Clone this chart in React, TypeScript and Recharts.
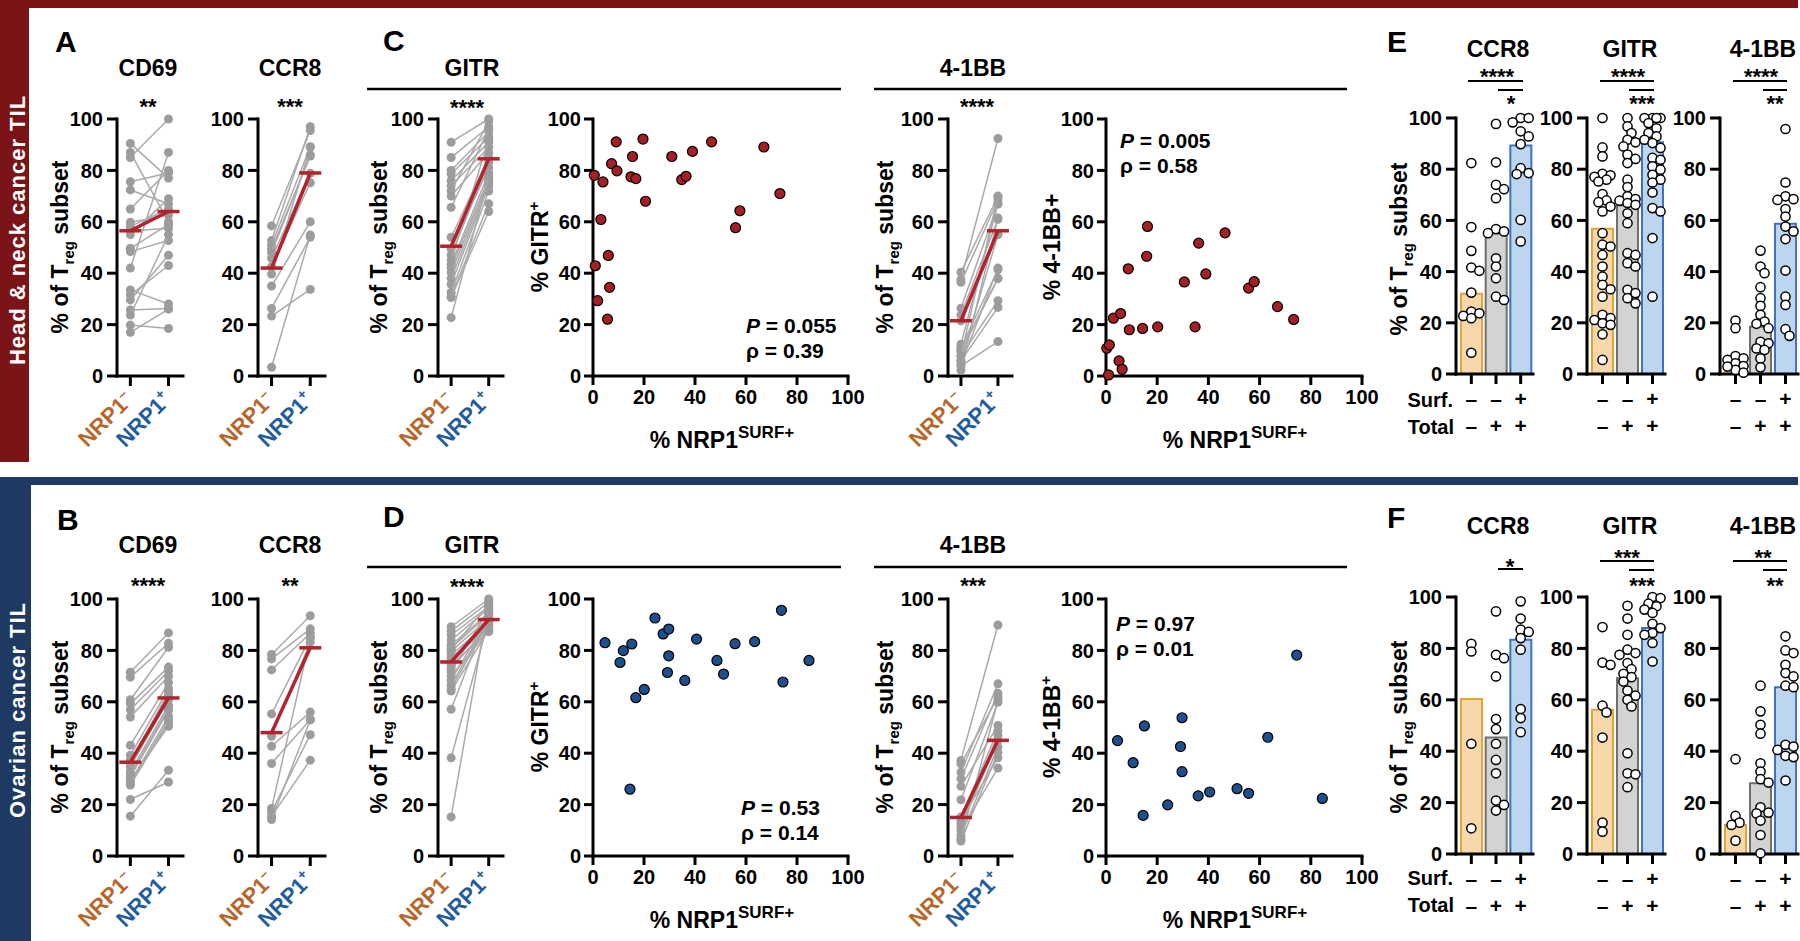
import React from 'react';
import { ScatterChart, Scatter, XAxis, YAxis, ComposedChart, Bar, Cell } from 'recharts';

const FONT = '"Liberation Sans", Arial, Helvetica, sans-serif';
const RED_BAND = '#7a1417';
const BLUE_BAND = '#1e3a62';
const MEAN_RED = '#b3232b';
const GREY_DOT = '#9c9c9c';
const GREY_LINE = '#aaaaaa';
const NEG_COLOR = '#b8652a';
const POS_COLOR = '#1f5c9e';
const SC_RED = '#a51f24';
const SC_BLUE = '#1f4f8f';

// ---------- tick / category labels ----------
const yTicks = [0, 20, 40, 60, 80, 100];
const xTicksCorr = [0, 20, 40, 60, 80, 100];
const pairSigns = ['–', '+'];
const barCats = ['neg', 'total', 'surf'];
const barSurf = ['–', '–', '+'];
const barTotal = ['–', '+', '+'];

// ---------- Head & neck: paired (NRP1- , NRP1+) ----------
const hnCD69Neg = [90.5, 87, 85, 75.6, 72.4, 65, 59.8, 58.2, 56.4, 55, 49.7, 48.4, 42, 33.5, 31.5, 29.6, 25.7, 23.7, 19.8, 17];
const hnCD69Pos = [77, 60, 100, 79, 67, 80, 62.6, 65, 57.5, 69, 59, 52.7, 87, 28, 43, 47, 26.3, 55, 18.5, 26];
const hnCD69Mean = [56.5, 64];
const hnCCR8Neg = [58.4, 52.7, 51, 49.3, 45.8, 42.5, 39.7, 35, 26.3, 23.3, 3.4, 48];
const hnCCR8Pos = [95.5, 97, 89.2, 85.6, 78.9, 75.2, 89, 60, 54, 33.7, 54.9, 86];
const hnCCR8Mean = [42, 79];
const hnGITRNeg = [91, 85, 80, 78.6, 76, 74, 72, 70, 65.6, 54, 49.4, 47, 43.5, 42.2, 40.3, 38, 35.7, 32.5, 31, 30.5, 22.7, 45];
const hnGITRPos = [100, 97, 95, 93, 91, 89, 99, 87, 96, 85, 81, 83, 79, 77, 76, 75, 74, 72, 67, 64, 78, 92];
const hnGITRMean = [50.5, 84.5];
const hn41BBNeg = [40.4, 37.5, 36.5, 26.4, 23.8, 21.5, 12.4, 11, 10, 9.5, 7.8, 6, 5.9, 3.9, 2.2, 4.5, 8];
const hn41BBPos = [69.8, 92.4, 68.5, 66.9, 61, 55, 67, 41.4, 38, 37.9, 29.3, 55, 26.7, 13.4, 61.5, 42, 70];
const hn41BBMean = [21.5, 56.5];

// ---------- Ovarian: paired ----------
const ovCD69Neg = [71.5, 69.6, 60.8, 59.3, 56.9, 54.1, 43.1, 39.2, 37.3, 34.7, 32.7, 30.8, 28.8, 27.6, 22, 15.5, 36, 29.5, 31.5, 28];
const ovCD69Pos = [86.8, 82.8, 81.2, 73.5, 72, 69.9, 67.4, 65.1, 62.5, 60.8, 58.6, 56.7, 54.3, 52, 28.8, 33.4, 64, 50.5, 57.5, 53];
const ovCD69Mean = [36.5, 61.5];
const ovCCR8Neg = [78.4, 76.7, 72.4, 55.3, 46.6, 42.7, 36, 18.5, 17.2, 15.5, 14.2];
const ovCCR8Pos = [93.5, 88.4, 86.7, 85.1, 83.2, 56, 53, 85, 47.2, 37.3, 53];
const ovCCR8Mean = [48, 81];
const ovGITRNeg = [89.2, 87.5, 84, 82.1, 79.7, 78.2, 76.2, 74.3, 71.7, 68.4, 65.2, 64.2, 57.1, 38.2, 15.2, 86, 81, 77, 73, 70, 66.5, 80.5];
const ovGITRPos = [100, 98.7, 96.4, 94.5, 92.5, 90.9, 89.2, 87.3, 96, 93, 91, 88, 95, 92, 99, 97, 94, 90, 89.5, 87.5, 92, 98];
const ovGITRMean = [75.5, 92];
const ov41BBNeg = [37.2, 35.9, 32.6, 30, 27.1, 21.9, 15.2, 12.8, 11.5, 8, 5.8, 14, 10, 6.5];
const ov41BBPos = [89.9, 61.8, 67, 63.3, 50.8, 59.8, 48.8, 46.9, 44.9, 42.4, 40.4, 38.2, 34.2, 60.5];
const ov41BBMean = [15, 45];

// ---------- correlations (%NRP1 surf+ vs marker) ----------
const hnGITRCorrX = [0.5, 3.9, 3.1, 0.9, 1.8, 6, 6.5, 5.7, 7.3, 9.1, 9.4, 14.9, 15.5, 16.8, 19.6, 20.6, 30.9, 34.8, 36.5, 39, 46.5, 55.9, 57.6, 67, 73.3];
const hnGITRCorrY = [78.1, 75.5, 60.9, 42.9, 29.3, 46.9, 34.5, 22.1, 82.6, 91.1, 79.8, 77.5, 85.4, 76.8, 92.2, 68, 85.4, 76.4, 77.7, 87.4, 91.1, 57.7, 64.3, 89.1, 71];
const hn41BBCorrX = [0.3, 1.3, 1, 2.9, 5.7, 5.1, 6.3, 8.7, 9.1, 14.3, 16.2, 15.9, 20.2, 30.6, 34.8, 36.2, 39, 46.5, 55.7, 57.9, 67, 73.3];
const hn41BBCorrY = [10.8, 12.1, 0.4, 22.5, 24.3, 5.9, 2.6, 41.7, 18, 18.5, 58.2, 46.6, 19.1, 36.6, 19.1, 51.7, 39.7, 55.7, 34.2, 36.7, 27, 22];
const ovGITRCorrX = [4.7, 10.6, 11.9, 15.2, 16.8, 20.1, 14.5, 24.3, 27.5, 29.7, 29.7, 29.2, 36, 40.6, 48.6, 51.2, 55.7, 63.4, 73.9, 74.5, 84.7];
const ovGITRCorrY = [83, 75.3, 79.9, 82.5, 61.6, 64.8, 26, 92.6, 86.4, 88.3, 77.9, 71.4, 68.3, 84.4, 76.1, 70.8, 82.6, 83.4, 95.6, 67.7, 76.1];
const ov41BBCorrX = [4.5, 10.6, 15, 14.5, 24.1, 29.7, 29.1, 29.7, 36, 40.5, 51.2, 55.7, 63.2, 74.5, 84.5];
const ov41BBCorrY = [44.9, 36.3, 50.6, 15.8, 19.9, 53.8, 42.6, 32.8, 23.4, 24.9, 26.2, 24.4, 46.2, 78.2, 22.4];

// ---------- bars: NRP1 surf-/total-, surf-/total+, surf+/total+ ----------
const hnBarCCR8Means = [31.3, 55, 89.3];
const hnBarCCR8Neg = [82.4, 57.4, 48.1, 41.6, 40.3, 31.8, 24.4, 23.7, 22.7, 21.8, 8.3];
const hnBarCCR8Tot = [97.7, 82.7, 73.9, 72.2, 68.7, 56.6, 55.7, 55, 45.2, 42, 37.4, 30.2, 28.9];
const hnBarCCR8Surf = [100, 100, 98.3, 94.8, 92.8, 89.8, 80.4, 78.5, 78.1, 60.2, 51.8];
const hnBarGITRMeans = [56.7, 65.8, 90.5];
const hnBarGITRNeg = [100, 88.5, 85, 78.2, 77.6, 77, 75.9, 75.2, 70.3, 67.8, 67.1, 65.4, 63.5, 55, 50.5, 49.8, 46.5, 42, 38, 34.8, 33.1, 30.2, 23.1, 21.8, 21.1, 19.8, 19.2, 15.5, 5.5];
const hnBarGITRTot = [100, 96.7, 94.1, 91.5, 90.5, 88.9, 85.7, 84, 82.4, 75.9, 73, 69.4, 68.3, 67.7, 66.8, 66.1, 62.8, 58.9, 47.2, 46.5, 43.3, 42, 32.9, 31.6, 29.6, 27.6];
const hnBarGITRSurf = [100, 100, 100, 100, 98, 96, 94.1, 92.8, 91.5, 90.2, 88.3, 84.4, 83.7, 81.1, 79.8, 77.8, 75.9, 74.8, 70.9, 64.8, 63.5, 53.1, 30.2];
const hnBar41BBMeans = [5.5, 18.5, 58.7];
const hnBar41BBNeg = [20.9, 17.9, 7, 6.1, 5.5, 4.2, 3.1, 1.6, 0.5, 2.9];
const hnBar41BBTot = [48.2, 42, 39.4, 33.9, 29.6, 26.6, 23.1, 20.5, 19.6, 17.9, 12.6, 12, 10, 9.4, 6.1, 2.6];
const hnBar41BBSurf = [95.7, 74.8, 69.4, 68.3, 68, 64.4, 61.5, 57.6, 55.7, 52.7, 40.4, 30.2, 27, 17.5, 14.9];

const ovBarCCR8Means = [60.3, 45.3, 83.4];
const ovBarCCR8Neg = [81.8, 78.8, 42.9, 10];
const ovBarCCR8Tot = [94.4, 77.5, 76.2, 69.1, 52.5, 48.6, 42.9, 36.6, 31.4, 20.8, 19.1, 16.9];
const ovBarCCR8Surf = [98.3, 91.6, 87.3, 86.4, 84, 79.5, 56.4, 52.9, 47.4];
const ovBarGITRMeans = [56.1, 68.4, 87.9];
const ovBarGITRNeg = [88.3, 74.5, 73.6, 57.7, 55.1, 45.3, 12.2, 8.7];
const ovBarGITRTot = [96.6, 91.6, 85.3, 79.5, 78.2, 77.5, 74.3, 71.9, 70.1, 68.8, 67.1, 63.6, 61.6, 60, 57.4, 39.2, 31.4, 31, 26];
const ovBarGITRSurf = [100, 99.6, 97.4, 96.4, 95.1, 93.8, 89.6, 87.9, 86, 85.3, 82.1, 74.9];
const ovBar41BBMeans = [11.3, 27.5, 64.9];
const ovBar41BBNeg = [36.9, 14.8, 12.2, 11.3, 5.2];
const ovBar41BBTot = [65.5, 55.5, 50.3, 46.8, 35.3, 32.1, 29.1, 27.8, 18.2, 16.1, 15.8, 13, 7.4, 0.3];
const ovBar41BBSurf = [84.7, 79.2, 78.2, 73.6, 70.4, 69.1, 65.5, 64.9, 42.5, 41.8, 40.5, 38.2, 37.7, 28.6];

const BAR_STYLE = [
  { fill: '#f7d8aa', stroke: '#e9a236' },
  { fill: '#d3d3d3', stroke: '#6f6f6f' },
  { fill: '#bcd6f0', stroke: '#3f72c4' },
];

// ---------- shared styles ----------
const AXIS = { stroke: '#000', strokeWidth: 3, strokeLinecap: 'square' as const };
const TICKLINE = { stroke: '#000', strokeWidth: 3 };
const TICK = { fill: '#000', fontSize: 20, fontWeight: 700, fontFamily: FONT };

const greyDot = (p: any) => <circle cx={p.cx} cy={p.cy} r={4.5} fill={GREY_DOT} />;
const meanCap = (p: any) => (
  <line x1={p.cx - 11} x2={p.cx + 11} y1={p.cy} y2={p.cy} stroke={MEAN_RED} strokeWidth={3.5} />
);
const whiteDot = (p: any) => <circle cx={p.cx} cy={p.cy} r={4.6} fill="#fff" stroke="#000" strokeWidth={1.5} />;

// compact beeswarm: small horizontal offsets (in axis units), dots may overlap a little
function swarm(vals: number[], unitPx: number, yPx: number, d = 7, maxOff = 10): number[] {
  const idx = vals.map((_, i) => i).sort((a, b) => vals[b] - vals[a]);
  const placed: [number, number][] = [];
  const out: number[] = vals.map(() => 0);
  const step = 4;
  const cands: number[] = [0];
  for (let k = 1; k * step <= maxOff; k++) cands.push(k * step, -k * step);
  for (const i of idx) {
    const py = vals[i] * yPx;
    let best = 0, bestScore = -1;
    for (const off of cands) {
      const md = placed.reduce((m, [px, qy]) => Math.min(m, Math.hypot(px - off, qy - py)), 1e9);
      if (md >= d) { best = off; bestScore = 1e9; break; }
      if (md > bestScore) { bestScore = md; best = off; }
    }
    placed.push([best, py]);
    out[i] = best / unitPx;
  }
  return out;
}

function PairTick(props: any) {
  const { x, y, payload } = props;
  const i = payload.value === 0 ? 0 : 1;
  const ax = x + 4;
  const ay = y + 13;
  return (
    <text x={ax} y={ay} textAnchor="end" transform={`rotate(-45 ${ax} ${ay})`}
      fill={i === 0 ? NEG_COLOR : POS_COLOR} fontSize={22} fontWeight={700} fontFamily={FONT}>
      <tspan>NRP1</tspan>
      <tspan dy={-9} fontSize={14}>{pairSigns[i]}</tspan>
    </text>
  );
}

function BarSignTick(props: any) {
  const { x, y, payload } = props;
  const i = barCats.indexOf(payload.value);
  return (
    <g fontFamily={FONT} fontWeight={700} fontSize={21} fill="#000">
      <text x={x} y={y + 20} textAnchor="middle">{barSurf[i]}</text>
      <text x={x} y={y + 47} textAnchor="middle">{barTotal[i]}</text>
    </g>
  );
}

function PairedChart({ x0, y0, w, h, neg, pos, mean }: any) {
  const YW = 60, MT = 12, MR = 10, XH = 80;
  return (
    <div style={{ position: 'absolute', left: x0 - YW, top: y0 - MT }}>
      <ScatterChart width={YW + w + MR} height={MT + h + XH} margin={{ top: MT, right: MR, left: 0, bottom: 0 }}>
        <XAxis type="number" dataKey="x" domain={[-0.35, 1.38]} ticks={[0, 1]} interval={0} height={XH}
          tick={(p: any) => <PairTick {...p} />} tickSize={10} axisLine={AXIS} tickLine={TICKLINE} />
        <YAxis type="number" dataKey="y" domain={[0, 100]} ticks={yTicks} interval={0} width={YW}
          tick={TICK} tickSize={10} tickMargin={4} axisLine={AXIS} tickLine={TICKLINE} />
        {neg.map((v: number, i: number) => (
          <Scatter key={i} data={[{ x: 0, y: v }, { x: 1, y: pos[i] }]} line={{ stroke: GREY_LINE, strokeWidth: 1.5 }}
            shape={greyDot} isAnimationActive={false} />
        ))}
        <Scatter data={[{ x: 0, y: mean[0] }, { x: 1, y: mean[1] }]} line={{ stroke: MEAN_RED, strokeWidth: 3.5 }}
          shape={meanCap} isAnimationActive={false} />
      </ScatterChart>
    </div>
  );
}

function CorrChart({ x0, y0, w, h, xs, ys, color }: any) {
  const YW = 60, MT = 12, MR = 24, XH = 50;
  const data = xs.map((x: number, i: number) => ({ x, y: ys[i] }));
  const dot = (p: any) => <circle cx={p.cx} cy={p.cy} r={5} fill={color} stroke="#000" strokeWidth={1.2} />;
  return (
    <div style={{ position: 'absolute', left: x0 - YW, top: y0 - MT }}>
      <ScatterChart width={YW + w + MR} height={MT + h + XH} margin={{ top: MT, right: MR, left: 0, bottom: 0 }}>
        <XAxis type="number" dataKey="x" domain={[0, 100]} ticks={xTicksCorr} interval={0} height={XH}
          tick={TICK} tickSize={9} tickMargin={5} axisLine={AXIS} tickLine={TICKLINE} />
        <YAxis type="number" dataKey="y" domain={[0, 100]} ticks={yTicks} interval={0} width={YW}
          tick={TICK} tickSize={9} tickMargin={3} axisLine={AXIS} tickLine={TICKLINE} />
        <Scatter data={data} shape={dot} isAnimationActive={false} />
      </ScatterChart>
    </div>
  );
}

function BarPanel({ x0, y0, w, h, means, groups }: any) {
  const YW = 60, MT = 12, MR = 6, XH = 70, PADL = 3;
  const unit = (w - PADL) / 3;
  const dots = groups.flatMap((vals: number[], g: number) => {
    const off = swarm(vals, unit, h / 100);
    return vals.map((v, i) => ({ x: g + off[i], y: v }));
  });
  const data = barCats.map((c, i) => ({ g: c, v: means[i] }));
  return (
    <div style={{ position: 'absolute', left: x0 - YW, top: y0 - MT }}>
      <ComposedChart width={YW + w + MR} height={MT + h + XH} data={data} margin={{ top: MT, right: MR, left: 0, bottom: 0 }}>
        <XAxis xAxisId="c" dataKey="g" type="category" padding={{ left: PADL, right: 0 }} height={XH} interval={0}
          tick={(p: any) => <BarSignTick {...p} />} tickSize={10} axisLine={AXIS} tickLine={TICKLINE} />
        <XAxis xAxisId="n" dataKey="x" type="number" domain={[-0.5, 2.5]} padding={{ left: PADL, right: 0 }} hide />
        <YAxis domain={[0, 100]} ticks={yTicks} interval={0} width={YW}
          tick={TICK} tickSize={10} tickMargin={4} axisLine={AXIS} tickLine={TICKLINE} />
        <Bar xAxisId="c" dataKey="v" barSize={21} isAnimationActive={false}>
          {BAR_STYLE.map((s, i) => <Cell key={i} fill={s.fill} stroke={s.stroke} strokeWidth={2} />)}
        </Bar>
        <Scatter xAxisId="n" data={dots} dataKey="y" shape={whiteDot} isAnimationActive={false} />
      </ComposedChart>
    </div>
  );
}

// ---------- overlay text helpers ----------
const Txt = ({ x, y, size = 23, anchor = 'middle', children, fill = '#000', weight = 700 }: any) => (
  <text x={x} y={y} fontSize={size} textAnchor={anchor} fill={fill} fontWeight={weight} fontFamily={FONT}>{children}</text>
);
const Stars = ({ x, y, children }: any) => (
  <text x={x} y={y} fontSize={22} textAnchor="middle" fontWeight={700} fontFamily={FONT}>{children}</text>
);
const YLab = ({ x, cy }: any) => (
  <text transform={`translate(${x} ${cy}) rotate(-90)`} textAnchor="middle" fontSize={23} fontWeight={700} fontFamily={FONT}>
    % of T<tspan dy={6} fontSize={15}>reg</tspan><tspan dy={-6}>{' subset'}</tspan>
  </text>
);
const RotLab = ({ x, cy, main, sup }: any) => (
  <text transform={`translate(${x} ${cy}) rotate(-90)`} textAnchor="middle" fontSize={23} fontWeight={700} fontFamily={FONT}>
    {main}{sup ? <tspan dy={-9} fontSize={15}>{sup}</tspan> : null}
  </text>
);
const NrpLab = ({ x, y }: any) => (
  <text x={x} y={y} textAnchor="middle" fontSize={23} fontWeight={700} fontFamily={FONT}>
    % NRP1<tspan dy={-10} fontSize={17}>SURF+</tspan>
  </text>
);
const PRho = ({ x, y, p, rho }: any) => (
  <g fontFamily={FONT} fontWeight={700} fontSize={21}>
    <text x={x} y={y}><tspan fontStyle="italic">P</tspan>{` = ${p}`}</text>
    <text x={x} y={y + 25}>{`ρ = ${rho}`}</text>
  </g>
);
const HLine = ({ x1, x2, y, w = 2.5 }: any) => <line x1={x1} x2={x2} y1={y} y2={y} stroke="#000" strokeWidth={w} />;

function Overlay() {
  return (
    <svg width={1800} height={941} style={{ position: 'absolute', left: 0, top: 0, pointerEvents: 'none' }}>
      {/* bands */}
      <rect x={0} y={0} width={1798} height={8} fill={RED_BAND} />
      <rect x={0} y={0} width={29} height={462} fill={RED_BAND} />
      <text transform="translate(25 230) rotate(-90)" textAnchor="middle" fontSize={22} fontWeight={700}
        letterSpacing={1} fill="#fff" fontFamily={FONT}>Head &amp; neck cancer TIL</text>
      <rect x={0} y={477} width={1798} height={8} fill={BLUE_BAND} />
      <rect x={0} y={477} width={31} height={464} fill={BLUE_BAND} />
      <text transform="translate(25 710) rotate(-90)" textAnchor="middle" fontSize={22} fontWeight={700}
        letterSpacing={1} fill="#fff" fontFamily={FONT}>Ovarian cancer TIL</text>

      {/* ===== top row ===== */}
      <Txt x={55} y={52} size={30} anchor="start">A</Txt>
      <Txt x={383} y={51} size={30} anchor="start">C</Txt>
      <Txt x={1387} y={52} size={30} anchor="start">E</Txt>
      <Txt x={148} y={76}>CD69</Txt>
      <Txt x={290} y={76}>CCR8</Txt>
      <Txt x={472} y={76}>GITR</Txt>
      <Txt x={973} y={76}>4-1BB</Txt>
      <HLine x1={367} x2={841} y={89} />
      <HLine x1={874} x2={1347} y={89} />
      <Stars x={148} y={114}>**</Stars>
      <Stars x={290} y={114}>***</Stars>
      <Stars x={467} y={115}>****</Stars>
      <Stars x={977} y={114}>****</Stars>
      <YLab x={68} cy={247} />
      <YLab x={387} cy={247} />
      <YLab x={893} cy={247} />
      <YLab x={1407} cy={249} />
      <RotLab x={548} cy={247} main="% GITR" sup="+" />
      <RotLab x={1060} cy={247} main="% 4-1BB+" />
      <NrpLab x={722} y={448} />
      <NrpLab x={1235} y={448} />
      <PRho x={746} y={333} p="0.055" rho="0.39" />
      <PRho x={1120} y={148} p="0.005" rho="0.58" />
      <Txt x={1498} y={57}>CCR8</Txt>
      <Txt x={1630} y={57}>GITR</Txt>
      <Txt x={1763} y={57}>4-1BB</Txt>
      <HLine x1={1468} x2={1523} y={81} w={2} />
      <HLine x1={1498} x2={1523} y={90} w={2} />
      <Stars x={1497} y={84}>****</Stars>
      <Stars x={1511} y={111}>*</Stars>
      <HLine x1={1600} x2={1654} y={81} w={2} />
      <HLine x1={1629} x2={1654} y={90} w={2} />
      <Stars x={1628} y={84}>****</Stars>
      <Stars x={1642} y={111}>***</Stars>
      <HLine x1={1733} x2={1787} y={81} w={2} />
      <HLine x1={1763} x2={1787} y={90} w={2} />
      <Stars x={1761} y={84}>****</Stars>
      <Stars x={1775} y={111}>**</Stars>
      <Txt x={1453} y={407} size={20} anchor="end">Surf.</Txt>
      <Txt x={1454} y={434} size={20} anchor="end">Total</Txt>

      {/* ===== bottom row ===== */}
      <Txt x={57} y={530} size={30} anchor="start">B</Txt>
      <Txt x={383} y={527} size={30} anchor="start">D</Txt>
      <Txt x={1387} y={528} size={30} anchor="start">F</Txt>
      <Txt x={148} y={553}>CD69</Txt>
      <Txt x={290} y={553}>CCR8</Txt>
      <Txt x={472} y={553}>GITR</Txt>
      <Txt x={973} y={553}>4-1BB</Txt>
      <HLine x1={367} x2={841} y={567} />
      <HLine x1={874} x2={1347} y={567} />
      <Stars x={148} y={593}>****</Stars>
      <Stars x={290} y={593}>**</Stars>
      <Stars x={467} y={594}>****</Stars>
      <Stars x={973} y={593}>***</Stars>
      <YLab x={68} cy={727} />
      <YLab x={387} cy={727} />
      <YLab x={893} cy={727} />
      <YLab x={1407} cy={727} />
      <RotLab x={548} cy={727} main="% GITR" sup="+" />
      <RotLab x={1060} cy={727} main="% 4-1BB" sup="+" />
      <NrpLab x={722} y={928} />
      <NrpLab x={1235} y={928} />
      <PRho x={741} y={815} p="0.53" rho="0.14" />
      <PRho x={1116} y={631} p="0.97" rho="0.01" />
      <Txt x={1498} y={534}>CCR8</Txt>
      <Txt x={1630} y={534}>GITR</Txt>
      <Txt x={1763} y={534}>4-1BB</Txt>
      <HLine x1={1498} x2={1523} y={569} w={2} />
      <Stars x={1510} y={574}>*</Stars>
      <HLine x1={1600} x2={1654} y={561} w={2} />
      <HLine x1={1629} x2={1654} y={570} w={2} />
      <Stars x={1627} y={565}>***</Stars>
      <Stars x={1642} y={593}>***</Stars>
      <HLine x1={1733} x2={1787} y={561} w={2} />
      <HLine x1={1763} x2={1787} y={570} w={2} />
      <Stars x={1763} y={565}>**</Stars>
      <Stars x={1775} y={593}>**</Stars>
      <Txt x={1453} y={885} size={20} anchor="end">Surf.</Txt>
      <Txt x={1454} y={912} size={20} anchor="end">Total</Txt>
    </svg>
  );
}

export default function App() {
  const T0 = 119, B0 = 599, H = 257;
  return (
    <div style={{ position: 'absolute', left: 0, top: 0, width: 1800, height: 941, background: '#fff', overflow: 'hidden', fontFamily: FONT }}>
      {/* top row */}
      <PairedChart x0={117} y0={T0} w={66} h={H} neg={hnCD69Neg} pos={hnCD69Pos} mean={hnCD69Mean} />
      <PairedChart x0={258} y0={T0} w={67} h={H} neg={hnCCR8Neg} pos={hnCCR8Pos} mean={hnCCR8Mean} />
      <PairedChart x0={438} y0={T0} w={65} h={H} neg={hnGITRNeg} pos={hnGITRPos} mean={hnGITRMean} />
      <CorrChart x0={593} y0={T0} w={255} h={H} xs={hnGITRCorrX} ys={hnGITRCorrY} color={SC_RED} />
      <PairedChart x0={948} y0={T0} w={64} h={H} neg={hn41BBNeg} pos={hn41BBPos} mean={hn41BBMean} />
      <CorrChart x0={1106} y0={T0} w={256} h={H} xs={hn41BBCorrX} ys={hn41BBCorrY} color={SC_RED} />
      <BarPanel x0={1456} y0={118} w={77} h={256} means={hnBarCCR8Means} groups={[hnBarCCR8Neg, hnBarCCR8Tot, hnBarCCR8Surf]} />
      <BarPanel x0={1587} y0={118} w={78} h={256} means={hnBarGITRMeans} groups={[hnBarGITRNeg, hnBarGITRTot, hnBarGITRSurf]} />
      <BarPanel x0={1720} y0={118} w={78} h={256} means={hnBar41BBMeans} groups={[hnBar41BBNeg, hnBar41BBTot, hnBar41BBSurf]} />
      {/* bottom row */}
      <PairedChart x0={117} y0={B0} w={66} h={H} neg={ovCD69Neg} pos={ovCD69Pos} mean={ovCD69Mean} />
      <PairedChart x0={258} y0={B0} w={67} h={H} neg={ovCCR8Neg} pos={ovCCR8Pos} mean={ovCCR8Mean} />
      <PairedChart x0={438} y0={B0} w={65} h={H} neg={ovGITRNeg} pos={ovGITRPos} mean={ovGITRMean} />
      <CorrChart x0={593} y0={B0} w={255} h={H} xs={ovGITRCorrX} ys={ovGITRCorrY} color={SC_BLUE} />
      <PairedChart x0={948} y0={B0} w={64} h={H} neg={ov41BBNeg} pos={ov41BBPos} mean={ov41BBMean} />
      <CorrChart x0={1106} y0={B0} w={256} h={H} xs={ov41BBCorrX} ys={ov41BBCorrY} color={SC_BLUE} />
      <BarPanel x0={1456} y0={597} w={77} h={257} means={ovBarCCR8Means} groups={[ovBarCCR8Neg, ovBarCCR8Tot, ovBarCCR8Surf]} />
      <BarPanel x0={1587} y0={597} w={78} h={257} means={ovBarGITRMeans} groups={[ovBarGITRNeg, ovBarGITRTot, ovBarGITRSurf]} />
      <BarPanel x0={1720} y0={597} w={78} h={257} means={ovBar41BBMeans} groups={[ovBar41BBNeg, ovBar41BBTot, ovBar41BBSurf]} />
      <Overlay />
    </div>
  );
}
